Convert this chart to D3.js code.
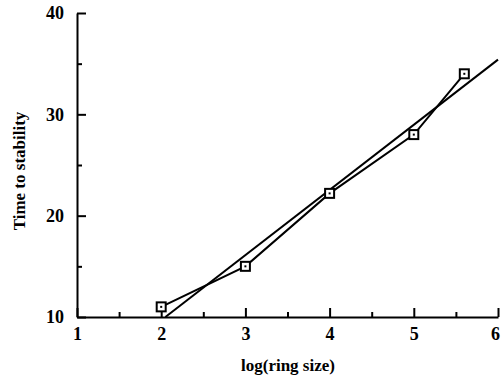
<!DOCTYPE html>
<html>
<head>
<meta charset="utf-8">
<script src="https://cdn.jsdelivr.net/npm/d3@7"></script>
<style>
  body { margin: 0; background: #fff; }
  svg text { font-family: "Liberation Serif", "Times New Roman", serif; font-weight: bold; fill: #000; }
</style>
</head>
<body>
<div id="chart"></div>
<script>
// measured points
const ringLog = [2, 3, 4, 5, 5.6];
const stabTime = [11, 15, 22.2, 28, 34];
// fitted straight line, end points
const fitX = [2.05, 6];
const fitY = [10, 35.4];
// ticks
const xTicks = [1, 2, 3, 4, 5, 6];
const xMinor = [1.5, 2.5, 3.5, 4.5, 5.5];
const yTicks = [10, 20, 30, 40];
const yMinor = [15, 25, 35];

const width = 501, height = 380;
const margin = { top: 13, right: 3, bottom: 63, left: 77 };
const w = width - margin.left - margin.right;
const h = height - margin.top - margin.bottom;

const svg = d3.select("#chart").append("svg")
  .attr("width", width)
  .attr("height", height);

const g = svg.append("g")
  .attr("transform", "translate(" + margin.left + "," + margin.top + ")");

const x = d3.scaleLinear().domain([1, 6]).range([0, w]);
const y = d3.scaleLinear().domain([10, 40]).range([h, 0]);

// x axis, ticks point inward
const xAx = g.append("g")
  .attr("transform", "translate(0," + h + ")")
  .call(d3.axisBottom(x).tickValues(xTicks).tickFormat(d3.format("d"))
    .tickSizeInner(-9).tickSizeOuter(0).tickPadding(10));
// last label sits at the window edge, pull it in a bit
xAx.selectAll(".tick text").filter(d => d === 6).attr("dx", -3);
g.append("g")
  .attr("transform", "translate(0," + h + ")")
  .call(d3.axisBottom(x).tickValues(xMinor).tickFormat("")
    .tickSizeInner(-5).tickSizeOuter(0))
  .select(".domain").remove();

// y axis
g.append("g")
  .call(d3.axisLeft(y).tickValues(yTicks).tickFormat(d3.format("d"))
    .tickSizeInner(-9).tickSizeOuter(0).tickPadding(13));
g.append("g")
  .call(d3.axisLeft(y).tickValues(yMinor).tickFormat("")
    .tickSizeInner(-5).tickSizeOuter(0))
  .select(".domain").remove();

g.selectAll(".domain, .tick line")
  .attr("stroke", "#000")
  .attr("stroke-width", 2);
g.selectAll(".tick text")
  .style("font-size", "18px")
  .style("font-family", "'Liberation Serif', serif")
  .style("font-weight", "bold");

// fitted line
const fit = fitX.map((d, i) => ({ x: d, y: fitY[i] }));
const line = d3.line().x(d => x(d.x)).y(d => y(d.y));
g.append("path")
  .datum(fit)
  .attr("d", line)
  .attr("fill", "none")
  .attr("stroke", "#000")
  .attr("stroke-width", 2);

// data line
const pts = ringLog.map((d, i) => ({ x: d, y: stabTime[i] }));
g.append("path")
  .datum(pts)
  .attr("d", line)
  .attr("fill", "none")
  .attr("stroke", "#000")
  .attr("stroke-width", 2);

// square markers with a dot inside
const mk = g.selectAll(".mk")
  .data(pts)
  .enter().append("g")
  .attr("transform", d => "translate(" + x(d.x) + "," + y(d.y) + ")");
mk.append("rect")
  .attr("x", -4.5).attr("y", -4.5)
  .attr("width", 9).attr("height", 9)
  .attr("fill", "#fff")
  .attr("stroke", "#000")
  .attr("stroke-width", 2);
mk.append("rect")
  .attr("x", -1).attr("y", -1)
  .attr("width", 2).attr("height", 2)
  .attr("fill", "#000");

// axis titles
svg.append("text")
  .attr("x", 288)
  .attr("y", 371)
  .attr("text-anchor", "middle")
  .style("font-size", "17px")
  .text("log(ring size)");

svg.append("text")
  .attr("transform", "translate(25,171) rotate(-90)")
  .attr("text-anchor", "middle")
  .style("font-size", "17px")
  .text("Time to stability");
</script>
</body>
</html>
